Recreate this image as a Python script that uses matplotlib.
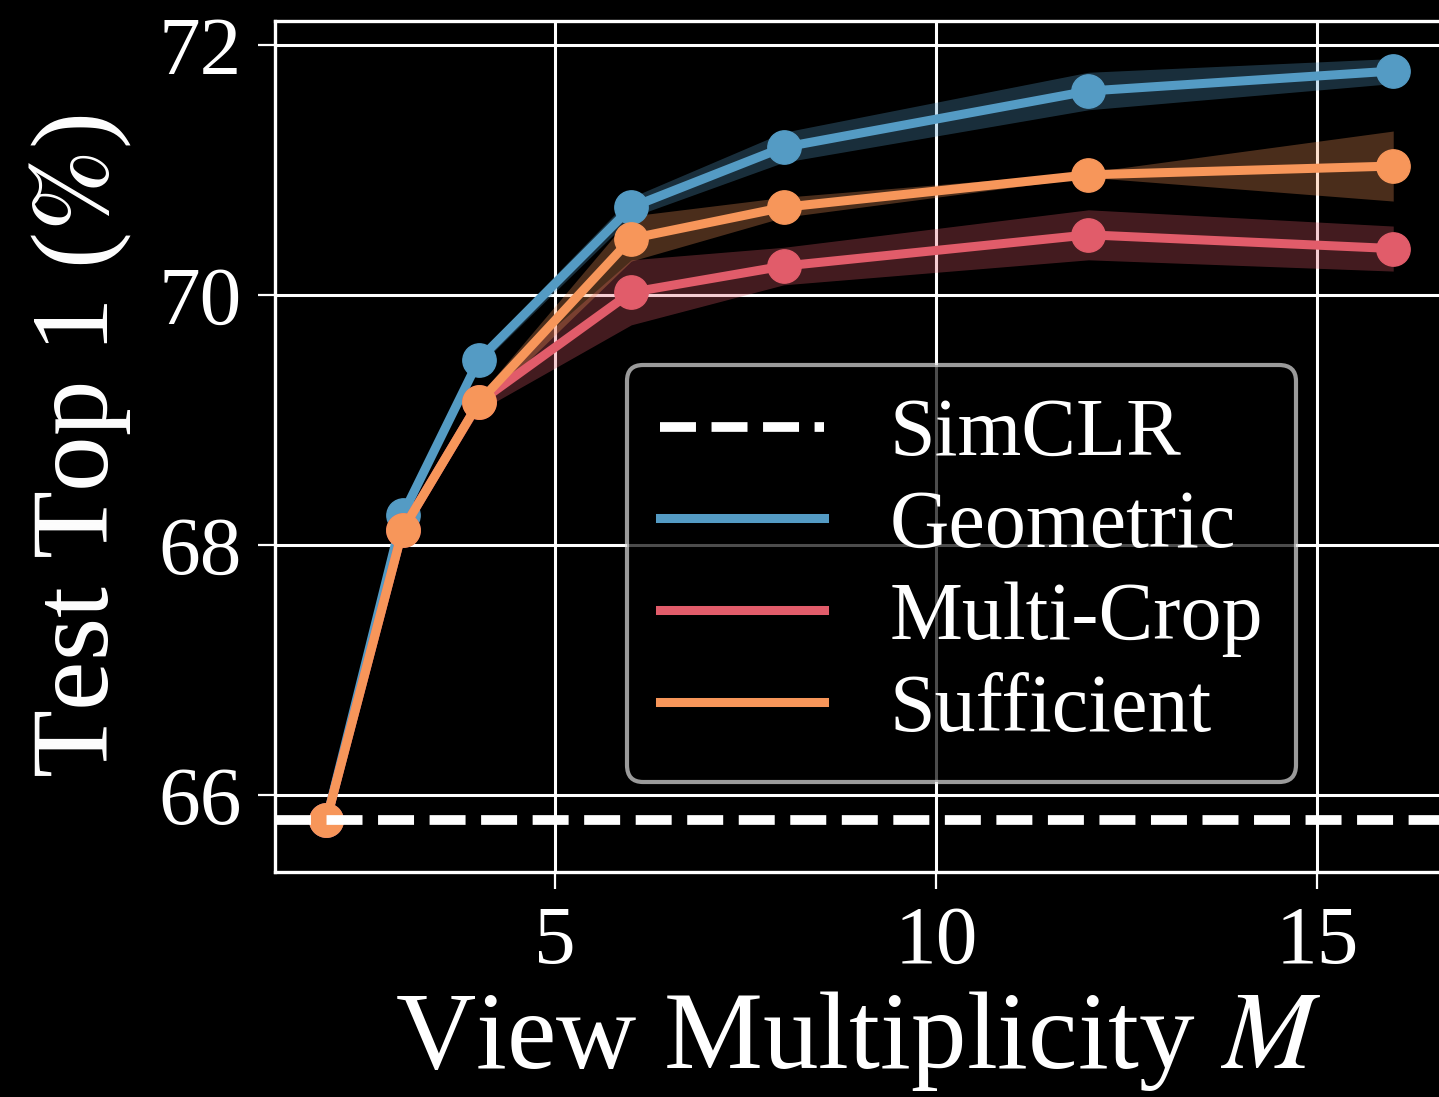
import numpy as np
import matplotlib
matplotlib.use("Agg")
import matplotlib.pyplot as plt

plt.rcParams['font.family'] = 'Liberation Serif'
plt.rcParams['mathtext.fontset'] = 'stix'

views = [2, 3, 4, 6, 8, 12, 16]
simclr = 65.8

geometric = [65.8, 68.24, 69.48, 70.70, 71.18, 71.63, 71.79]
geometric_err = [0.0, 0.04, 0.05, 0.08, 0.12, 0.15, 0.10]
multicrop = [65.8, 68.12, 69.14, 70.02, 70.23, 70.48, 70.37]
multicrop_err = [0.0, 0.04, 0.07, 0.26, 0.15, 0.20, 0.18]
sufficient = [65.8, 68.12, 69.14, 70.45, 70.70, 70.96, 71.03]
sufficient_err = [0.0, 0.04, 0.05, 0.18, 0.08, 0.02, 0.28]

names = ["Geometric", "Multi-Crop", "Sufficient"]
colors = ["#549BC4", "#E15C6A", "#F7965A"]

fig = plt.figure(figsize=(14.39, 10.97), dpi=100, facecolor="black")
ax = fig.add_axes([275/1439, 225/1097, 1167/1439, 851/1097])
ax.set_facecolor("black")

# SimCLR baseline
ax.axhline(simclr, color="white", ls="--", lw=7, label="SimCLR", zorder=5)

for name, col, y, e in zip(names, colors,
                           [geometric, multicrop, sufficient],
                           [geometric_err, multicrop_err, sufficient_err]):
    y = np.array(y)
    e = np.array(e)
    ax.fill_between(views, y - e, y + e, color=col, alpha=0.3, lw=0, zorder=2)
    ax.plot(views, y, color=col, lw=6.5, marker="o", ms=24, label=name, zorder=3)

ax.set_xlim(1.325, 16.64)
ax.set_ylim(65.384, 72.19)
ax.set_xticks([5, 10, 15])
ax.set_yticks([66, 68, 70, 72])
ax.grid(True, color="white", lw=2.2, zorder=0)
ax.set_axisbelow(True)
for s in ax.spines.values():
    s.set_color("white")
    s.set_linewidth(2.4)
ax.tick_params(colors="white", labelsize=60, length=12, width=1.6, pad=12)

ax.set_xlabel("View Multiplicity $M$", color="white", fontsize=80, labelpad=6)
ax.set_ylabel("Test Top 1 ($\\%$)", color="white", fontsize=80, labelpad=18)

leg = ax.legend(loc="upper left", bbox_to_anchor=(627/1439, 1 - 365/1097),
                bbox_transform=fig.transFigure, borderaxespad=0,
                fontsize=59, labelspacing=0.2, framealpha=0.7,
                facecolor="black", edgecolor="#dddddd", labelcolor="white")
leg.get_frame().set_linewidth(3)
leg.set_zorder(10)
for h in leg.legend_handles:
    h.set_marker("")

fig.savefig("out.png", dpi=100, facecolor="black")
